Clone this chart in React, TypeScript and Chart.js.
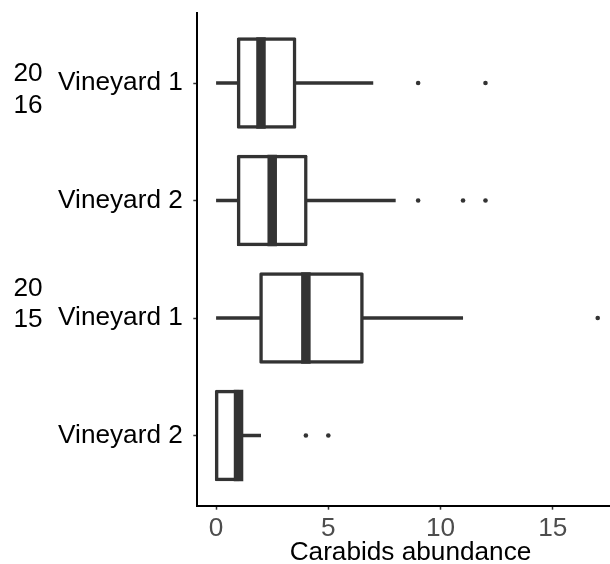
import React, { useEffect, useRef } from 'react';
import { Chart, registerables } from 'chart.js';

Chart.register(...registerables);

// ---- data ----
const categories = ['Vineyard 1', 'Vineyard 2', 'Vineyard 1', 'Vineyard 2'];
const whiskerLow = [0, 0, 0, 0];
const q1 = [1, 1, 2, 0];
const medians = [2, 2.5, 4, 1];
const q3 = [3.5, 4, 6.5, 1];
const whiskerHigh = [7, 8, 11, 2];
const outliers = [[9, 12], [9, 11, 12], [17], [4, 5]];
const xTicks = [0, 5, 10, 15];
const stripLines = [['20', '16'], ['20', '15']];
const stripCategory = [0, 2];
const xTitle = 'Carabids abundance';

// ---- styles ----
const INK = '#333333';
const FONT = "'Liberation Sans', Arial, Helvetica, sans-serif";
const FS = 26.2;
const stripOffsets = [[-9, 23], [-29, 1.5]];

const boxParts = {
  id: 'boxParts',
  beforeDatasetsDraw(chart: any) {
    const xs = chart.scales.x;
    const ys = chart.scales.y;
    const ctx = chart.ctx;
    ctx.save();
    ctx.strokeStyle = INK;
    ctx.lineWidth = 3.5;
    ctx.lineCap = 'butt';
    categories.forEach((_, i) => {
      const py = ys.getPixelForValue(i);
      ctx.beginPath();
      ctx.moveTo(xs.getPixelForValue(whiskerLow[i]), py);
      ctx.lineTo(xs.getPixelForValue(q1[i]), py);
      ctx.moveTo(xs.getPixelForValue(q3[i]), py);
      ctx.lineTo(xs.getPixelForValue(whiskerHigh[i]), py);
      ctx.stroke();
    });
    ctx.restore();
  },
  afterDatasetsDraw(chart: any) {
    const xs = chart.scales.x;
    const ys = chart.scales.y;
    const ctx = chart.ctx;
    const meta = chart.getDatasetMeta(0);
    ctx.save();
    ctx.strokeStyle = INK;
    ctx.lineWidth = 9.5;
    ctx.lineCap = 'butt';
    categories.forEach((_, i) => {
      const el = meta.data[i];
      const py = ys.getPixelForValue(i);
      const half = el.height / 2 + 1.75;
      const px = xs.getPixelForValue(medians[i]);
      ctx.beginPath();
      ctx.moveTo(px, py - half);
      ctx.lineTo(px, py + half);
      ctx.stroke();
    });
    ctx.restore();
  },
  afterDraw(chart: any) {
    const ys = chart.scales.y;
    const ctx = chart.ctx;
    ctx.save();
    ctx.fillStyle = '#000000';
    ctx.font = `${FS}px ${FONT}`;
    ctx.textAlign = 'center';
    ctx.textBaseline = 'middle';
    stripLines.forEach((lines, k) => {
      const base = ys.getPixelForValue(stripCategory[k]);
      lines.forEach((t, j) => {
        ctx.fillText(t, 28, base + stripOffsets[k][j]);
      });
    });
    ctx.restore();
  },
};

export default function App() {
  const ref = useRef<HTMLCanvasElement>(null);
  useEffect(() => {
    if (!ref.current) return;
    const chart = new Chart(ref.current, {
      type: 'bar',
      data: {
        datasets: [
          {
            type: 'bar',
            indexAxis: 'y',
            data: categories.map((_, i) => ({ y: i, x: [q1[i], q3[i]] })) as any,
            backgroundColor: '#ffffff',
            borderColor: INK,
            borderWidth: 3.5,
            borderSkipped: false,
            borderRadius: 1.5,
            inflateAmount: 1.75,
            barPercentage: 0.75,
            categoryPercentage: 1,
            grouped: false,
            order: 1,
          } as any,
          {
            type: 'scatter',
            data: outliers.flatMap((vals, i) => vals.map((v) => ({ x: v, y: i }))),
            pointRadius: 2.3,
            pointBackgroundColor: INK,
            pointBorderWidth: 0,
            showLine: false,
            order: 0,
          } as any,
        ],
      },
      options: {
        responsive: false,
        animation: false,
        devicePixelRatio: 1,
        layout: { padding: { top: 12.5, left: 0, right: 0, bottom: 0 } },
        plugins: { legend: { display: false }, tooltip: { enabled: false } },
        scales: {
          x: {
            type: 'linear',
            position: 'bottom',
            offset: false,
            bounds: 'data',
            grace: 0,
            beginAtZero: false,
            min: -0.85,
            max: 18.17,
            afterBuildTicks: (s: any) => {
              s.ticks = xTicks.map((v) => ({ value: v }));
            },
            afterFit: (s: any) => {
              s.height = 58;
              s.paddingLeft = 0;
              s.paddingRight = 0;
            },
            grid: {
              display: true,
              offset: false,
              drawOnChartArea: false,
              drawTicks: true,
              tickLength: 3.7,
              tickColor: INK,
              tickWidth: 1.5,
            },
            border: { display: true, color: '#000000', width: 2 },
            ticks: {
              color: '#4D4D4D',
              font: { family: FONT, size: FS },
              padding: 3,
              maxRotation: 0,
              autoSkip: false,
            },
            title: {
              display: true,
              text: xTitle,
              color: '#000000',
              font: { family: FONT, size: FS, lineHeight: 1 },
              padding: { top: 0, bottom: -2 },
            },
          },
          y: {
            type: 'linear',
            position: 'left',
            offset: false,
            bounds: 'data',
            grace: 0,
            beginAtZero: false,
            reverse: true,
            min: -0.6,
            max: 3.6,
            afterBuildTicks: (s: any) => {
              s.ticks = categories.map((_, i) => ({ value: i }));
            },
            afterFit: (s: any) => {
              s.width = 197;
              s.paddingTop = 0;
              s.paddingBottom = 0;
            },
            grid: {
              display: true,
              offset: false,
              drawOnChartArea: false,
              drawTicks: true,
              tickLength: 3.7,
              tickColor: INK,
              tickWidth: 1.5,
            },
            border: { display: true, color: '#000000', width: 2 },
            ticks: {
              color: '#000000',
              font: { family: FONT, size: FS },
              padding: 10.5,
              autoSkip: false,
              callback: (v: any) => categories[Math.round(Number(v))] ?? '',
            },
          },
        },
      } as any,
      plugins: [boxParts],
    });
    return () => chart.destroy();
  }, []);

  return (
    <div
      style={{
        position: 'absolute',
        left: 0,
        top: 0,
        width: 610,
        height: 564,
        overflow: 'hidden',
        background: '#ffffff',
      }}
    >
      <canvas ref={ref} width={628} height={564} style={{ display: 'block', width: 628, height: 564 }} />
    </div>
  );
}
